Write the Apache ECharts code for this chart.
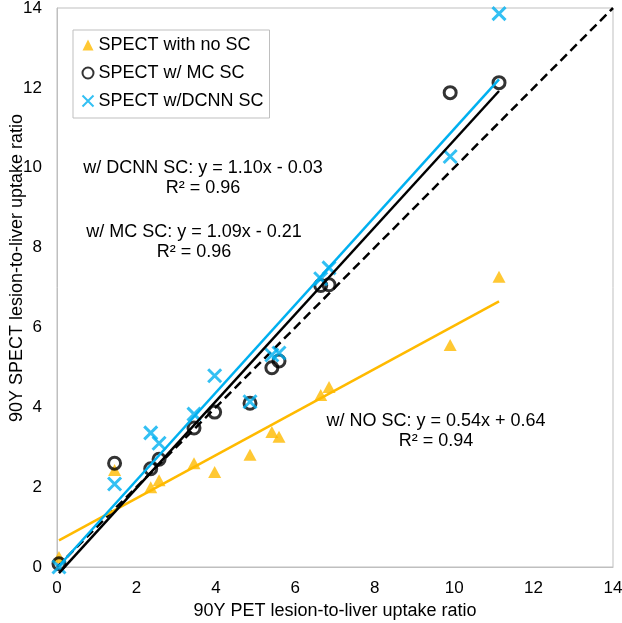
<!DOCTYPE html>
<html>
<head>
<meta charset="utf-8">
<style>html,body{margin:0;padding:0;background:#fff}#c{width:622px;height:623px}</style>
<script src="https://cdn.jsdelivr.net/npm/echarts@6/dist/echarts.min.js"></script>
</head>
<body>
<div id="c"></div>
<script>
// ---- data ----
const petX   = [0.05, 1.45, 2.36, 2.57, 3.45, 3.97, 4.86, 5.41, 5.59, 6.64, 6.85, 9.90, 11.13];
const noSC   = [0.25, 2.43, 2.00, 2.17, 2.60, 2.38, 2.81, 3.38, 3.26, 4.31, 4.51, 5.56, 7.27];
const mcSC   = [0.08, 2.60, 2.46, 2.70, 3.48, 3.88, 4.10, 4.99, 5.16, 7.05, 7.07, 11.88, 12.13];
const dcnnSC = [0.00, 2.08, 3.36, 3.10, 3.83, 4.79, 4.14, 5.31, 5.36, 7.22, 7.49, 10.28, 13.86];
const seriesNames = ['SPECT with no SC', 'SPECT w/ MC SC', 'SPECT w/DCNN SC'];
const fitLabels = ['w/ NO SC', 'w/ MC SC', 'w/ DCNN SC'];
const fitSlopes = [0.54, 1.09, 1.10];
const fitIntercepts = [0.64, -0.21, -0.03];
const fitR2 = [0.94, 0.96, 0.96];
const axisTicks = [0, 2, 4, 6, 8, 10, 12, 14];
const xTitle = '90Y PET lesion-to-liver uptake ratio';
const yTitle = '90Y SPECT lesion-to-liver uptake ratio';

const ORANGE = '#FFBA00', BLUE = '#00B0F0', BLACK = '#000000';
const pts = ys => petX.map((x, i) => [x, ys[i]]);
const xMin = Math.min(...petX), xMax = Math.max(...petX);
const fitLine = k => [[xMin, fitSlopes[k] * xMin + fitIntercepts[k]], [xMax, fitSlopes[k] * xMax + fitIntercepts[k]]];
const fmt = (k) => {
  const b = fitIntercepts[k];
  return fitLabels[k] + ': y = ' + fitSlopes[k].toFixed(2) + 'x ' + (b < 0 ? '- ' : '+ ') + Math.abs(b).toFixed(2) +
    '\nR² = ' + fitR2[k].toFixed(2);
};

const chart = echarts.init(document.getElementById('c'));
const FONT = 'Liberation Sans';
const axisCommon = {
  type: 'value', min: axisTicks[0], max: axisTicks[axisTicks.length - 1], interval: 2,
  axisLine: { show: true, lineStyle: { color: '#BFBFBF', width: 1 } },
  axisTick: { show: false },
  splitLine: { show: false },
  axisLabel: { color: '#000', fontSize: 17, fontFamily: FONT },
  nameLocation: 'middle',
  nameTextStyle: { color: '#000', fontSize: 18, fontFamily: FONT }
};
const annot = (k, x, y) => ({
  type: 'text', x: x, y: y, z: 10,
  style: { text: fmt(k), font: '18px ' + FONT, fill: '#000', align: 'center', verticalAlign: 'top', lineHeight: 20 }
});

chart.setOption({
  animation: false,
  backgroundColor: '#fff',
  grid: { left: 57, right: 9, top: 8, bottom: 56, outerBoundsMode: 'none', containLabel: false,
          show: true, borderColor: '#BFBFBF', borderWidth: 1, backgroundColor: 'transparent' },
  xAxis: Object.assign({}, axisCommon, { name: xTitle, nameGap: 33, axisLabel: Object.assign({}, axisCommon.axisLabel, { margin: 13 }) }),
  yAxis: Object.assign({}, axisCommon, { axisLabel: Object.assign({}, axisCommon.axisLabel, { margin: 15 }) }),
  legend: {
    orient: 'vertical', left: 73, top: 30,
    padding: [5, 6, 7, 7], itemGap: 8, itemWidth: 11, itemHeight: 11,
    borderColor: '#BFBFBF', borderWidth: 1, backgroundColor: '#fff',
    textStyle: { color: '#000', fontSize: 18, fontFamily: FONT, lineHeight: 20 },
    data: seriesNames
  },
  series: [
    { type: 'line', data: [[axisTicks[0], axisTicks[0]], [axisTicks[axisTicks.length - 1], axisTicks[axisTicks.length - 1]]],
      symbol: 'none', silent: true, clip: false,
      lineStyle: { color: BLACK, width: 2.5, type: [9, 5] }, z: 1 },
    { name: seriesNames[0], type: 'scatter', data: pts(noSC), symbol: 'triangle', symbolSize: [13, 12],
      itemStyle: { color: ORANGE }, z: 2 },
    { name: seriesNames[1], type: 'scatter', data: pts(mcSC), symbol: 'circle', symbolSize: 12,
      itemStyle: { color: 'rgba(0,0,0,0)', borderColor: BLACK, borderWidth: 3 }, z: 3 },
    { name: seriesNames[2], type: 'scatter', data: pts(dcnnSC), symbol: 'path://M0,0L10,10M10,0L0,10', symbolSize: 13,
      itemStyle: { color: 'none', borderColor: BLUE, borderWidth: 3 }, z: 4 },
    { type: 'line', data: fitLine(0), symbol: 'none', silent: true, clip: false, lineStyle: { color: ORANGE, width: 2.5 }, z: 5 },
    { type: 'line', data: fitLine(1), symbol: 'none', silent: true, clip: false, lineStyle: { color: BLACK, width: 2.5 }, z: 5 },
    { type: 'line', data: fitLine(2), symbol: 'none', silent: true, clip: false, lineStyle: { color: BLUE, width: 2.5 }, z: 5 }
  ],
  graphic: [
    annot(2, 203, 158),
    annot(1, 194, 222),
    annot(0, 436, 411),
    { type: 'text', x: 17, y: 268, rotation: Math.PI / 2, z: 10,
      style: { text: yTitle, font: '18px ' + FONT, fill: '#000', align: 'center', verticalAlign: 'middle' } }
  ]
});
</script>
</body>
</html>
